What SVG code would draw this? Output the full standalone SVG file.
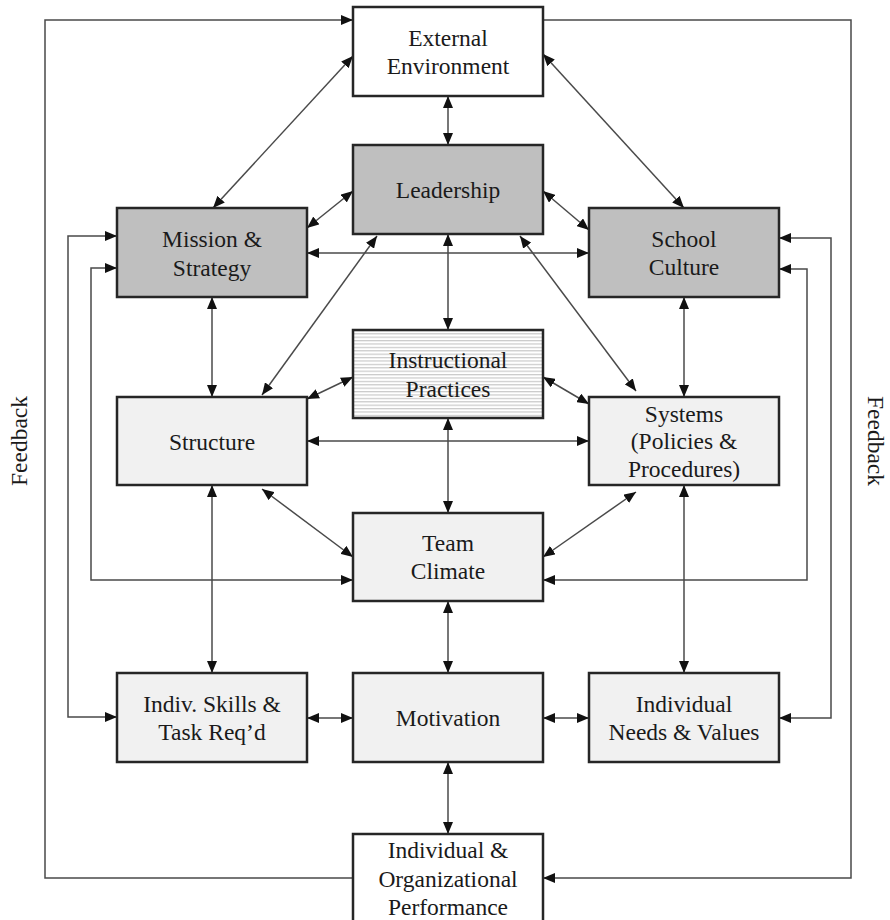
<svg xmlns="http://www.w3.org/2000/svg" width="890" height="920" viewBox="0 0 890 920">
<style>
.box{stroke:#262626;stroke-width:2.5}
.dark{fill:#bfbfbf}
.light{fill:#f1f1f1}
.white{fill:#ffffff}
.lbl{font-family:"Liberation Serif","Times New Roman",serif;font-size:23.5px;fill:#1a1a1a;text-anchor:middle}
.c{fill:none;stroke:#4a4a4a;stroke-width:1.5}
.bi{marker-start:url(#ah);marker-end:url(#ah)}
.en{marker-end:url(#ah)}
</style>
<defs>
<marker id="ah" markerUnits="userSpaceOnUse" markerWidth="12" markerHeight="10" viewBox="0 0 12 10" refX="12" refY="5" orient="auto-start-reverse">
<path d="M0,0 L12,5 L0,10 Z" fill="#111"/>
</marker>
<pattern id="stripes" patternUnits="userSpaceOnUse" width="10" height="3.4">
<rect width="10" height="3.4" fill="#ffffff"/>
<rect y="0" width="10" height="1.2" fill="#c9c9c9"/>
</pattern>
</defs>
<rect width="890" height="920" fill="#ffffff"/>

<g id="connectors">
<line class="c bi" x1="448" y1="96" x2="448" y2="145"/>
<line class="c bi" x1="448" y1="234" x2="448" y2="330"/>
<line class="c bi" x1="448" y1="418" x2="448" y2="513"/>
<line class="c bi" x1="448" y1="601" x2="448" y2="673"/>
<line class="c bi" x1="448" y1="762" x2="448" y2="834"/>
<line class="c bi" x1="212" y1="297" x2="212" y2="397"/>
<line class="c bi" x1="212" y1="485" x2="212" y2="673"/>
<line class="c bi" x1="684" y1="297" x2="684" y2="397"/>
<line class="c bi" x1="684" y1="485" x2="684" y2="673"/>
<line class="c bi" x1="307" y1="253" x2="589" y2="253"/>
<line class="c bi" x1="307" y1="441" x2="589" y2="441"/>
<line class="c bi" x1="307" y1="718" x2="353" y2="718"/>
<line class="c bi" x1="543" y1="718" x2="589" y2="718"/>
<line class="c bi" x1="353" y1="56" x2="213" y2="208"/>
<line class="c bi" x1="543" y1="54" x2="684" y2="208"/>
<line class="c bi" x1="353" y1="191" x2="307" y2="228"/>
<line class="c bi" x1="543" y1="191" x2="589" y2="230"/>
<line class="c bi" x1="377" y1="236" x2="262" y2="395"/>
<line class="c bi" x1="520" y1="236" x2="636" y2="391"/>
<line class="c bi" x1="353" y1="377" x2="307" y2="399"/>
<line class="c bi" x1="543" y1="377" x2="589" y2="404"/>
<line class="c bi" x1="262" y1="489" x2="353" y2="557"/>
<line class="c bi" x1="636" y1="492" x2="543" y2="557"/>
<polyline class="c en" points="353,878 45,878 45,20 353,20"/>
<polyline class="c en" points="543,20 851,20 851,878 543,878"/>
<polyline class="c bi" points="117,236 68,236 68,717 117,717"/>
<polyline class="c bi" points="117,268 91,268 91,580 353,580"/>
<polyline class="c bi" points="779,238 831,238 831,718 779,718"/>
<polyline class="c bi" points="779,269 807,269 807,580 543,580"/>
</g>

<g id="external-environment">
<rect class="box white" x="353" y="7" width="190" height="89"/>
<text class="lbl" x="448" y="46">External</text>
<text class="lbl" x="448" y="74">Environment</text>
</g>
<g id="leadership">
<rect class="box dark" x="353" y="145" width="190" height="89"/>
<text class="lbl" x="448" y="198">Leadership</text>
</g>
<g id="mission-strategy">
<rect class="box dark" x="117" y="208" width="190" height="89"/>
<text class="lbl" x="212" y="247">Mission &amp;</text>
<text class="lbl" x="212" y="276">Strategy</text>
</g>
<g id="school-culture">
<rect class="box dark" x="589" y="208" width="190" height="89"/>
<text class="lbl" x="684" y="247">School</text>
<text class="lbl" x="684" y="275">Culture</text>
</g>
<g id="instructional-practices">
<rect class="box" fill="url(#stripes)" x="353" y="330" width="190" height="88"/>
<text class="lbl" x="448" y="368">Instructional</text>
<text class="lbl" x="448" y="397">Practices</text>
</g>
<g id="structure">
<rect class="box light" x="117" y="397" width="190" height="88"/>
<text class="lbl" x="212" y="450">Structure</text>
</g>
<g id="systems">
<rect class="box light" x="589" y="397" width="190" height="88"/>
<text class="lbl" x="684" y="422">Systems</text>
<text class="lbl" x="684" y="449">(Policies &amp;</text>
<text class="lbl" x="684" y="477">Procedures)</text>
</g>
<g id="team-climate">
<rect class="box light" x="353" y="513" width="190" height="88"/>
<text class="lbl" x="448" y="551">Team</text>
<text class="lbl" x="448" y="579">Climate</text>
</g>
<g id="indiv-skills">
<rect class="box light" x="117" y="673" width="190" height="89"/>
<text class="lbl" x="212" y="712">Indiv. Skills &amp;</text>
<text class="lbl" x="212" y="740">Task Req’d</text>
</g>
<g id="motivation">
<rect class="box light" x="353" y="673" width="190" height="89"/>
<text class="lbl" x="448" y="726">Motivation</text>
</g>
<g id="individual-needs">
<rect class="box light" x="589" y="673" width="190" height="89"/>
<text class="lbl" x="684" y="712">Individual</text>
<text class="lbl" x="684" y="740">Needs &amp; Values</text>
</g>
<g id="performance">
<rect class="box white" x="353" y="834" width="190" height="96"/>
<text class="lbl" x="448" y="858">Individual &amp;</text>
<text class="lbl" x="448" y="887">Organizational</text>
<text class="lbl" x="448" y="915">Performance</text>
</g>
<g id="feedback-labels">
<text class="lbl" x="27" y="441" transform="rotate(-90 27 441)">Feedback</text>
<text class="lbl" x="868" y="441" transform="rotate(90 868 441)">Feedback</text>
</g>
</svg>
